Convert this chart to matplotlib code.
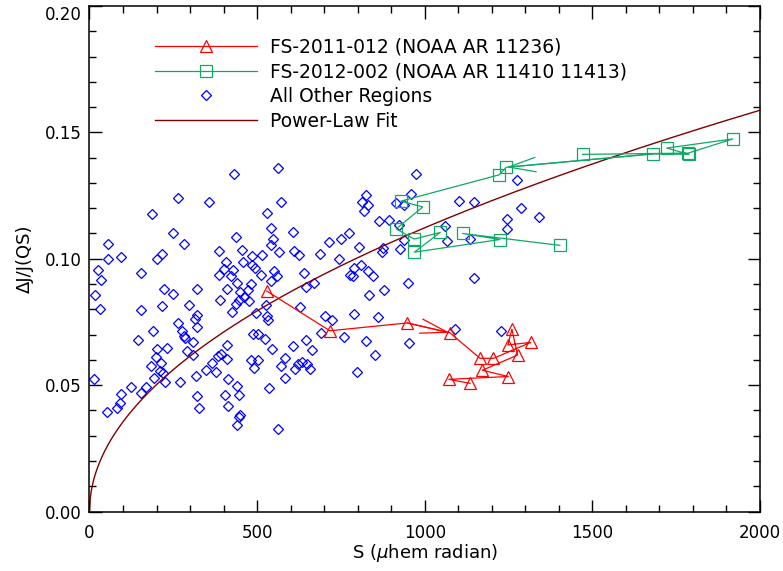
import numpy as np
import matplotlib
matplotlib.use("Agg")
import matplotlib.pyplot as plt
from matplotlib.lines import Line2D
from matplotlib.ticker import MultipleLocator, FormatStrFormatter

# all other regions: S (uhem radian), dJ/J(QS)
other_s = [561, 431, 264, 356, 571, 187, 530, 541, 250, 606, 437, 546, 282, 54, 542, 714,
           386, 455, 565, 611, 626, 687, 215, 202, 93, 54, 515, 485, 407, 457, 484, 495,
           402, 26, 154, 428, 550, 386, 421, 558, 512, 639, 33, 439, 542, 671, 483, 223,
           321, 409, 645, 249, 474, 16, 450, 462, 390, 445, 477, 436, 217, 30, 153, 298,
           425, 526, 629, 498, 529, 532, 320, 315, 264, 321, 703, 722, 189, 276, 281, 285,
           144, 309, 488, 502, 524, 690, 201, 231, 291, 309, 545, 411, 607, 647, 664, 199,
           184, 213, 384, 391, 365, 409, 483, 504, 584, 572, 622, 648, 635, 659, 614, 491,
           347, 377, 210, 219, 193, 225, 319, 583, 14, 271, 414, 124, 168, 154, 440, 535,
           93, 446, 403, 320, 90, 83, 412, 326, 53, 449, 445, 440, 561,
           973, 825, 958, 813, 832, 914, 939, 1103, 1148, 1276, 820, 1288, 1340, 864, 894,
           922, 1246, 1245, 774, 749, 1060, 1066, 1135, 804, 927, 937, 876, 873, 743, 809,
           790, 777, 787, 832, 845, 951, 879, 833, 1147, 788, 861, 759, 825, 852, 799, 953,
           1090, 1227]
other_dj = [0.1360, 0.1337, 0.1242, 0.1226, 0.1223, 0.1179, 0.1180, 0.1122, 0.1100, 0.1105,
            0.1088, 0.1078, 0.1058, 0.1057, 0.1055, 0.1065, 0.1032, 0.1034, 0.1026, 0.1030,
            0.1014, 0.1018, 0.1018, 0.0998, 0.1006, 0.0998, 0.1014, 0.1010, 0.0989, 0.0989,
            0.0975, 0.0965, 0.0961, 0.0955, 0.0945, 0.0955, 0.0953, 0.0936, 0.0931, 0.0931,
            0.0934, 0.0943, 0.0914, 0.0906, 0.0910, 0.0904, 0.0900, 0.0879, 0.0882, 0.0879,
            0.0887, 0.0861, 0.0878, 0.0858, 0.0870, 0.0849, 0.0835, 0.0835, 0.0833, 0.0821,
            0.0813, 0.0803, 0.0798, 0.0816, 0.0789, 0.0817, 0.0811, 0.0786, 0.0775, 0.0757,
            0.0777, 0.0761, 0.0744, 0.0730, 0.0773, 0.0757, 0.0715, 0.0715, 0.0694, 0.0685,
            0.0679, 0.0671, 0.0702, 0.0704, 0.0682, 0.0708, 0.0641, 0.0646, 0.0634, 0.0621,
            0.0641, 0.0657, 0.0655, 0.0677, 0.0640, 0.0612, 0.0575, 0.0588, 0.0615, 0.0623,
            0.0587, 0.0603, 0.0598, 0.0600, 0.0608, 0.0574, 0.0583, 0.0583, 0.0592, 0.0562,
            0.0564, 0.0567, 0.0559, 0.0551, 0.0555, 0.0547, 0.0528, 0.0511, 0.0538, 0.0530,
            0.0523, 0.0511, 0.0526, 0.0492, 0.0493, 0.0470, 0.0496, 0.0487, 0.0464, 0.0462,
            0.0462, 0.0458, 0.0428, 0.0410, 0.0417, 0.0408, 0.0393, 0.0381, 0.0375, 0.0342,
            0.0327,
            0.1335, 0.1254, 0.1258, 0.1226, 0.1214, 0.1219, 0.1211, 0.1228, 0.1223, 0.1310,
            0.1187, 0.1202, 0.1164, 0.1149, 0.1155, 0.1132, 0.1157, 0.1118, 0.1100, 0.1078,
            0.1128, 0.1069, 0.1078, 0.1048, 0.1040, 0.1076, 0.1043, 0.1025, 0.0999, 0.0974,
            0.0964, 0.0935, 0.0931, 0.0952, 0.0931, 0.0904, 0.0878, 0.0856, 0.0924, 0.0781,
            0.0770, 0.0689, 0.0673, 0.0619, 0.0551, 0.0665, 0.0721, 0.0713]

# FS-2011-012 (NOAA AR 11236), in time order
fs11_s = [529, 717, 948, 1075, 1165, 1205, 1316, 1248, 1260, 1277, 1172, 1249, 1072, 1135]
fs11_dj = [0.0872, 0.0715, 0.0746, 0.0707, 0.0606, 0.0606, 0.0669, 0.0659, 0.0721, 0.0619,
           0.0559, 0.0534, 0.0523, 0.0507]
fs11_arrow = (2, 3)

# FS-2012-002 (NOAA AR 11410 11413), in time order
fs12_s = [1471, 1786, 1919, 1722, 1788, 1682, 1243, 1222, 929, 994, 915, 969, 1046, 969,
          1224, 1113, 1403]
fs12_dj = [0.1413, 0.1418, 0.1474, 0.1438, 0.1413, 0.1415, 0.1362, 0.1332, 0.1228, 0.1205,
           0.1118, 0.1078, 0.1104, 0.1026, 0.1076, 0.1100, 0.1053]
fs12_arrow = (5, 6)

# power-law fit dJ/J = a * S^b
fit_amp = 0.00355
fit_index = 0.5

red = "#ff0000"
green = "#11a866"
blue = "#0000ff"
maroon = "#800000"

plt.rcParams["font.family"] = ["DejaVu Sans"]
plt.rcParams["mathtext.fontset"] = "dejavusans"

fig = plt.figure(figsize=(7.83, 5.71), dpi=100)
ax = fig.add_axes([0.1143, 0.1042, 0.8563, 0.8853])

ax.plot(other_s, other_dj, ls="none", marker="D", ms=5.0, mfc="none", mec=blue, mew=0.9,
        label="All Other Regions")

s_fit = np.linspace(0, 2000, 800)
ax.plot(s_fit, fit_amp * s_fit ** fit_index, color=maroon, lw=1.0, label="Power-Law Fit")

ax.plot(fs11_s, fs11_dj, color=red, lw=0.9, marker="^", ms=8.5, mfc="none", mec=red, mew=0.9)
ax.plot(fs12_s, fs12_dj, color=green, lw=0.9, marker="s", ms=8.2, mfc="none", mec=green, mew=0.9)

for xs, ys, (i0, i1), col in [(fs11_s, fs11_dj, fs11_arrow, red),
                              (fs12_s, fs12_dj, fs12_arrow, green)]:
    ax.annotate("", xy=(xs[i1], ys[i1]), xytext=(xs[i0], ys[i0]),
                arrowprops=dict(arrowstyle="->,head_length=1.95,head_width=0.52",
                                color=col, lw=0.9, shrinkA=0, shrinkB=0, mutation_scale=10))

ax.set_xlim(0, 2000)
ax.set_ylim(0, 0.2)
ax.xaxis.set_major_locator(MultipleLocator(500))
ax.xaxis.set_minor_locator(MultipleLocator(100))
ax.yaxis.set_major_locator(MultipleLocator(0.05))
ax.yaxis.set_minor_locator(MultipleLocator(0.01))
ax.yaxis.set_major_formatter(FormatStrFormatter("%.2f"))
ax.tick_params(which="both", direction="in", top=True, right=True, width=1.0, color="black",
               labelsize=12)
ax.tick_params(which="major", length=9)
ax.tick_params(which="minor", length=4.7)
ax.tick_params(axis="x", which="major", pad=9)
ax.tick_params(axis="y", which="major", pad=5.5)
for sp in ax.spines.values():
    sp.set_linewidth(1.1)

# keep the top y label inside the figure
fig.canvas.draw()
for tick, loc in zip(ax.yaxis.get_major_ticks(), ax.yaxis.get_majorticklocs()):
    if abs(loc - 0.2) < 1e-9:
        tick.label1.set_va("top")

ax.set_xlabel("S ($\\mu$hem radian)", fontsize=13, labelpad=0)
ax.set_ylabel("ΔJ/J(QS)", fontsize=13, labelpad=8)

handles = [
    Line2D([], [], color=red, lw=0.9, marker="^", ms=8.5, mfc="none", mec=red, mew=0.9),
    Line2D([], [], color=green, lw=0.9, marker="s", ms=8.2, mfc="none", mec=green, mew=0.9),
    Line2D([], [], ls="none", marker="D", ms=5.0, mfc="none", mec=blue, mew=0.9),
    Line2D([], [], color=maroon, lw=1.0),
]
labels = ["FS-2011-012 (NOAA AR 11236)", "FS-2012-002 (NOAA AR 11410 11413)",
          "All Other Regions", "Power-Law Fit"]
ax.legend(handles, labels, loc="upper left", bbox_to_anchor=(0.0977, 0.938), frameon=False,
          fontsize=13.5, handlelength=5.45, handletextpad=0.7, labelspacing=0.31,
          borderpad=0, borderaxespad=0, numpoints=1)

fig.savefig("out.png", dpi=100)
